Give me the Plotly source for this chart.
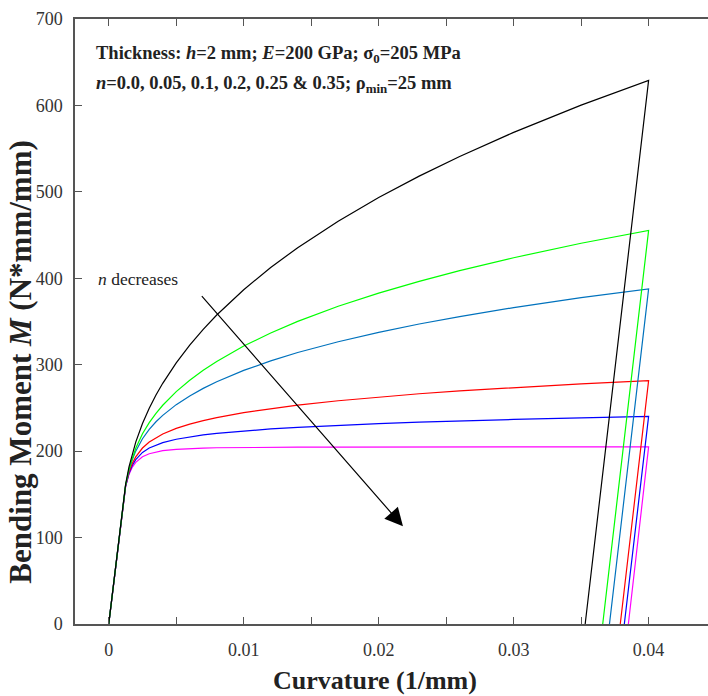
import plotly.graph_objects as go

# Curvature samples (1/mm) along the loading path
curvature = [0, 0.001, 0.00125, 0.0015, 0.00175, 0.002, 0.0025, 0.003, 0.0035,
             0.004, 0.005, 0.006, 0.007, 0.008, 0.01, 0.012, 0.014, 0.017,
             0.02, 0.023, 0.026, 0.03, 0.035, 0.04]

# Bending moment (N*mm/mm) on loading, one list per hardening exponent n
moment_n000 = [0, 133, 159.1, 173.1, 181.6, 187.0, 193.5, 197.0, 199.1, 200.5,
               202.1, 203.0, 203.5, 203.9, 204.3, 204.5, 204.6, 204.75, 204.8,
               204.86, 204.89, 204.92, 204.94, 204.95]
moment_n005 = [0, 133, 159.4, 174.3, 183.7, 190.2, 198.5, 203.6, 207.2, 209.9,
               213.8, 216.6, 218.8, 220.6, 223.5, 225.7, 227.6, 229.9, 231.9,
               233.5, 235.0, 236.7, 238.6, 240.2]
moment_n010 = [0, 133, 159.8, 175.5, 185.9, 193.3, 203.6, 210.5, 215.7, 219.9,
               226.3, 231.3, 235.3, 238.8, 244.6, 249.3, 253.3, 258.3, 262.6,
               266.4, 269.7, 273.6, 277.9, 281.6]
moment_n020 = [0, 133, 160.5, 177.9, 190.4, 200.0, 214.4, 225.2, 234.0, 241.4,
               253.8, 263.9, 272.6, 280.3, 293.4, 304.5, 314.1, 326.6, 337.5,
               347.1, 355.7, 366.1, 377.6, 387.8]
moment_n025 = [0, 133, 160.9, 179.1, 192.7, 203.4, 220.1, 233.0, 243.8, 253.1,
               268.9, 282.1, 293.6, 303.8, 321.6, 336.7, 350.1, 367.6, 382.9,
               396.5, 408.9, 423.8, 440.5, 455.4]
moment_n035 = [0, 133, 161.6, 181.7, 197.4, 210.5, 232.0, 249.7, 264.9, 278.5,
               302.2, 322.7, 341.0, 357.5, 386.8, 412.5, 435.4, 466.1, 493.4,
               518.2, 541.0, 568.8, 600.3, 629.0]

# Residual curvature after elastic unloading to zero moment
residual_curvature = {"0.0": 0.0385, "0.05": 0.0382, "0.1": 0.0379,
                      "0.2": 0.0371, "0.25": 0.0366, "0.35": 0.0353}

series = [
    ("0.0", moment_n000, "#FF00FF"),
    ("0.05", moment_n005, "#0000FF"),
    ("0.1", moment_n010, "#FF0000"),
    ("0.2", moment_n020, "#0072BD"),
    ("0.25", moment_n025, "#00FF00"),
    ("0.35", moment_n035, "#000000"),
]

fig = go.Figure()
for n_label, moments, color in series:
    xs = curvature + [residual_curvature[n_label]]
    ys = moments + [0]
    fig.add_trace(go.Scatter(
        x=xs, y=ys, mode="lines", name="n=" + n_label,
        line=dict(color=color, width=1.2),
        showlegend=False, hoverinfo="skip",
    ))

serif = '"Liberation Serif", "Times New Roman", serif'
axis_color = "#555555"
tick_font = dict(family=serif, size=18, color="#333333")

fig.update_layout(
    width=708, height=696,
    margin=dict(l=75, r=0, t=19, b=72),
    plot_bgcolor="white", paper_bgcolor="white",
    showlegend=False,
)

fig.update_xaxes(
    range=[-0.0025, 0.0444],
    tick0=0, dtick=0.01,
    showgrid=False, zeroline=False,
    showline=True, linecolor=axis_color, linewidth=1.5,
    mirror="ticks",
    ticks="inside", ticklen=7, tickwidth=1.2, tickcolor=axis_color,
    minor=dict(dtick=0.005, tick0=0, ticks="inside", ticklen=7,
               tickwidth=1.2, tickcolor=axis_color, showgrid=False),
    tickfont=tick_font,
    ticklabelstandoff=9,
)
fig.update_yaxes(
    range=[0, 700],
    tick0=0, dtick=100,
    showgrid=False, zeroline=False,
    showline=True, linecolor=axis_color, linewidth=1.5,
    mirror=False,
    ticks="inside", ticklen=7, tickwidth=1.2, tickcolor=axis_color,
    tickfont=tick_font,
    ticklabelstandoff=7,
)

annotations = [
    dict(text="<b>Curvature (1/mm)</b>", x=0.474, y=-0.093,
         xref="paper", yref="paper", showarrow=False,
         xanchor="center", yanchor="middle",
         font=dict(family=serif, size=26, color="#222222")),
    dict(text="<b>Bending Moment <i>M</i> (N*mm/mm)</b>", x=-0.0875, y=0.433,
         xref="paper", yref="paper", showarrow=False, textangle=-90,
         xanchor="center", yanchor="middle",
         font=dict(family=serif, size=31, color="#222222")),
    dict(text="<b>Thickness: <i>h</i>=2 mm; <i>E</i>=200 GPa; σ<sub>0</sub>=205 MPa</b>",
         x=0.030, y=0.942, xref="paper", yref="paper", showarrow=False,
         xanchor="left", yanchor="middle",
         font=dict(family=serif, size=18.5, color="#222222")),
    dict(text="<b><i>n</i>=0.0, 0.05, 0.1, 0.2, 0.25 &amp; 0.35; ρ<sub>min</sub>=25 mm</b>",
         x=0.030, y=0.891, xref="paper", yref="paper", showarrow=False,
         xanchor="left", yanchor="middle",
         font=dict(family=serif, size=18.5, color="#222222")),
    dict(text="<i>n</i> decreases",
         x=0.033, y=0.570, xref="paper", yref="paper", showarrow=False,
         xanchor="left", yanchor="middle",
         font=dict(family=serif, size=17.5, color="#222222")),
    dict(text="", x=0.0218, y=113, ax=0.0068, ay=381,
         xref="x", yref="y", axref="x", ayref="y",
         showarrow=True, arrowhead=2, arrowsize=3, arrowwidth=1.2,
         arrowcolor="#000000"),
]
fig.update_layout(annotations=annotations)

fig.write_html("out.html")
